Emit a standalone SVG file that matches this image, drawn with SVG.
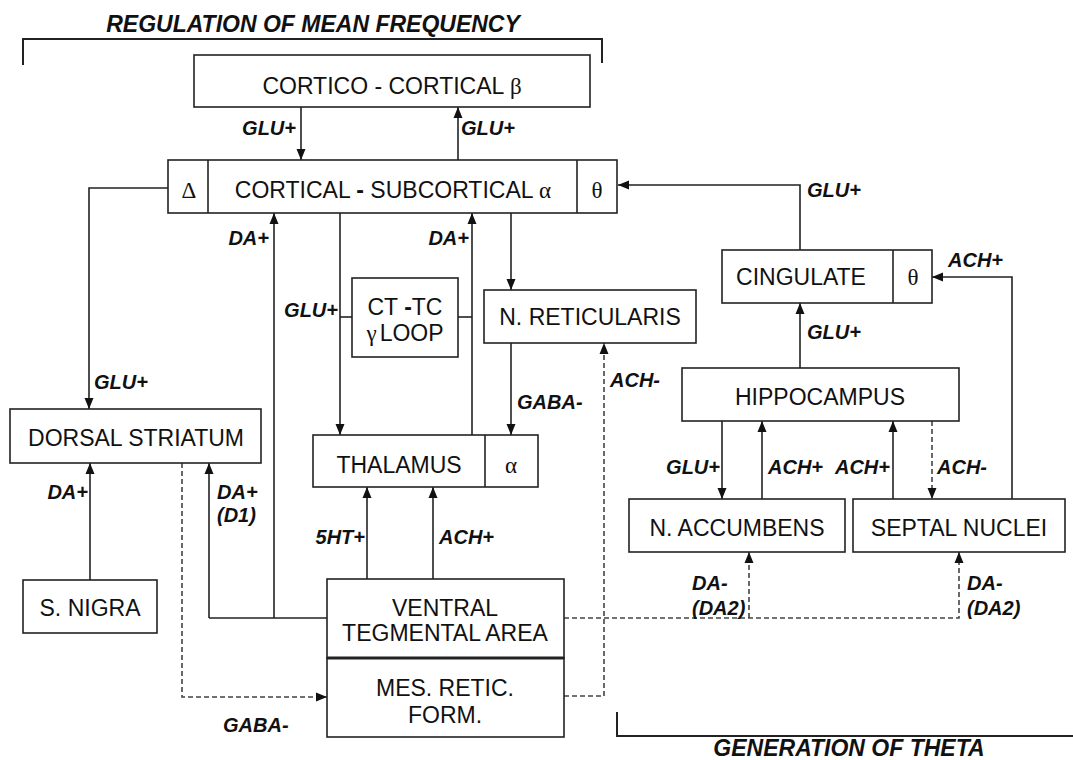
<svg xmlns="http://www.w3.org/2000/svg" width="1073" height="760" viewBox="0 0 1073 760">
<defs>
<marker id="ah" markerUnits="userSpaceOnUse" markerWidth="12" markerHeight="10" refX="11" refY="5" orient="auto">
<path d="M0,0.5 L11,5 L0,9.5 z" fill="#111"/>
</marker>
<style>
.box{fill:#fff;stroke:#222;stroke-width:1.6}
.div{stroke:#222;stroke-width:1.6}
.t{font-family:"Liberation Sans",Arial,sans-serif;font-size:23px;fill:#111;text-anchor:middle}
.g{font-family:"Liberation Serif","Times New Roman",serif}
.lb{font-family:"Liberation Sans",Arial,sans-serif;font-size:20px;font-weight:bold;font-style:italic;fill:#111}
.ti{font-family:"Liberation Sans",Arial,sans-serif;font-size:23px;font-weight:bold;font-style:italic;fill:#111;text-anchor:middle}
.c{fill:none;stroke:#222;stroke-width:1.6}
.a{marker-end:url(#ah)}
.d{fill:none;stroke:#444;stroke-width:1.6;stroke-dasharray:5,3}
.br{fill:none;stroke:#222;stroke-width:2}
</style>
</defs>
<rect width="1073" height="760" fill="#fff"/>

<g id="titles">
<path class="br" d="M23,65 V39 H602 V63"/>
<text class="ti" x="313" y="32">REGULATION OF MEAN FREQUENCY</text>
<path class="br" d="M617,712 V736 H1073"/>
<text class="ti" x="849" y="756">GENERATION OF THETA</text>
</g>

<g id="connectors">
<path class="c a" d="M301,107 V160"/>
<path class="c a" d="M458,160 V107"/>
<path class="c a" d="M168,188 H89 V409"/>
<path class="c" d="M327,618 H209"/>
<path class="c a" d="M209,618 V463"/>
<path class="c a" d="M274,618 V213"/>
<path class="c a" d="M90,580 V463"/>
<path class="c a" d="M340,213 V435"/>
<path class="c" d="M340,317 H352"/>
<path class="c a" d="M472,435 V213"/>
<path class="c" d="M458,317 H472"/>
<path class="c a" d="M511,213 V290"/>
<path class="c a" d="M511,343 V435"/>
<path class="c a" d="M367,579 V487"/>
<path class="c a" d="M433,579 V487"/>
<path class="d a" d="M182,463 V697 H327"/>
<path class="d a" d="M564,696 H604 V343"/>
<path class="d a" d="M564,618 H959 V552"/>
<path class="d a" d="M749,618 V552"/>
<path class="c a" d="M800,250 V185 H618"/>
<path class="c a" d="M800,368 V303"/>
<path class="c a" d="M1012,499 V277 H932"/>
<path class="c a" d="M722,421 V499"/>
<path class="c a" d="M762,499 V421"/>
<path class="c a" d="M893,499 V421"/>
<path class="d a" d="M932,421 V499"/>
</g>

<g id="labels">
<text class="lb" x="296" y="135" text-anchor="end">GLU+</text>
<text class="lb" x="461" y="135">GLU+</text>
<text class="lb" x="94" y="389">GLU+</text>
<text class="lb" x="269" y="245" text-anchor="end">DA+</text>
<text class="lb" x="469" y="245" text-anchor="end">DA+</text>
<text class="lb" x="338" y="317" text-anchor="end">GLU+</text>
<text class="lb" x="517" y="409">GABA-</text>
<text class="lb" x="610" y="387">ACH-</text>
<text class="lb" x="88" y="499" text-anchor="end">DA+</text>
<text class="lb" x="217" y="499">DA+</text>
<text class="lb" x="217" y="522">(D1)</text>
<text class="lb" x="365" y="544" text-anchor="end">5HT+</text>
<text class="lb" x="439" y="544">ACH+</text>
<text class="lb" x="223" y="732">GABA-</text>
<text class="lb" x="807" y="197">GLU+</text>
<text class="lb" x="807" y="339">GLU+</text>
<text class="lb" x="948" y="267">ACH+</text>
<text class="lb" x="720" y="474" text-anchor="end">GLU+</text>
<text class="lb" x="768" y="474">ACH+</text>
<text class="lb" x="890" y="474" text-anchor="end">ACH+</text>
<text class="lb" x="937" y="474">ACH-</text>
<text class="lb" x="692" y="590">DA-</text>
<text class="lb" x="692" y="615">(DA2)</text>
<text class="lb" x="967" y="590">DA-</text>
<text class="lb" x="967" y="615">(DA2)</text>
</g>

<g id="cortico-cortical">
<rect class="box" x="194" y="55" width="396" height="52"/>
<text class="t" x="392" y="94">CORTICO - CORTICAL <tspan class="g">β</tspan></text>
</g>

<g id="cortical-subcortical">
<rect class="box" x="168" y="160" width="449" height="53"/>
<line class="div" x1="208" y1="160" x2="208" y2="213"/>
<line class="div" x1="577" y1="160" x2="577" y2="213"/>
<text class="t g" x="189" y="198">Δ</text>
<text class="t" x="393" y="198">CORTICAL <tspan font-weight="bold">-</tspan> SUBCORTICAL <tspan class="g">α</tspan></text>
<text class="t g" x="597" y="198">θ</text>
</g>

<g id="ct-tc">
<rect class="box" x="352" y="278" width="106" height="79"/>
<text class="t" x="405" y="315">CT <tspan font-weight="bold">-</tspan>TC</text>
<text class="t" x="405" y="341"><tspan class="g">γ</tspan><tspan dx="3">LOOP</tspan></text>
</g>

<g id="n-reticularis">
<rect class="box" x="484" y="290" width="212" height="53"/>
<text class="t" x="590" y="325">N. RETICULARIS</text>
</g>

<g id="cingulate">
<rect class="box" x="722" y="250" width="210" height="53"/>
<line class="div" x1="893" y1="250" x2="893" y2="303"/>
<text class="t" x="801" y="285">CINGULATE</text>
<text class="t g" x="913" y="285">θ</text>
</g>

<g id="hippocampus">
<rect class="box" x="682" y="368" width="277" height="53"/>
<text class="t" x="820" y="405">HIPPOCAMPUS</text>
</g>

<g id="dorsal-striatum">
<rect class="box" x="10" y="409" width="251" height="54"/>
<text class="t" x="136" y="446">DORSAL STRIATUM</text>
</g>

<g id="thalamus">
<rect class="box" x="313" y="435" width="225" height="52"/>
<line class="div" x1="485" y1="435" x2="485" y2="487"/>
<text class="t" x="399" y="473">THALAMUS</text>
<text class="t g" x="511" y="473">α</text>
</g>

<g id="n-accumbens">
<rect class="box" x="629" y="499" width="216" height="53"/>
<text class="t" x="737" y="536">N. ACCUMBENS</text>
</g>

<g id="septal-nuclei">
<rect class="box" x="853" y="499" width="212" height="53"/>
<text class="t" x="959" y="536">SEPTAL NUCLEI</text>
</g>

<g id="s-nigra">
<rect class="box" x="23" y="580" width="134" height="53"/>
<text class="t" x="90" y="616">S. NIGRA</text>
</g>

<g id="vta">
<rect class="box" x="327" y="579" width="237" height="79"/>
<text class="t" x="445" y="616">VENTRAL</text>
<text class="t" x="445" y="641">TEGMENTAL AREA</text>
</g>

<g id="mes-retic-form">
<rect class="box" x="327" y="658" width="237" height="79"/>
<line x1="327" y1="658" x2="564" y2="658" stroke="#222" stroke-width="3"/>
<text class="t" x="445" y="696">MES. RETIC.</text>
<text class="t" x="445" y="723">FORM.</text>
</g>
</svg>
